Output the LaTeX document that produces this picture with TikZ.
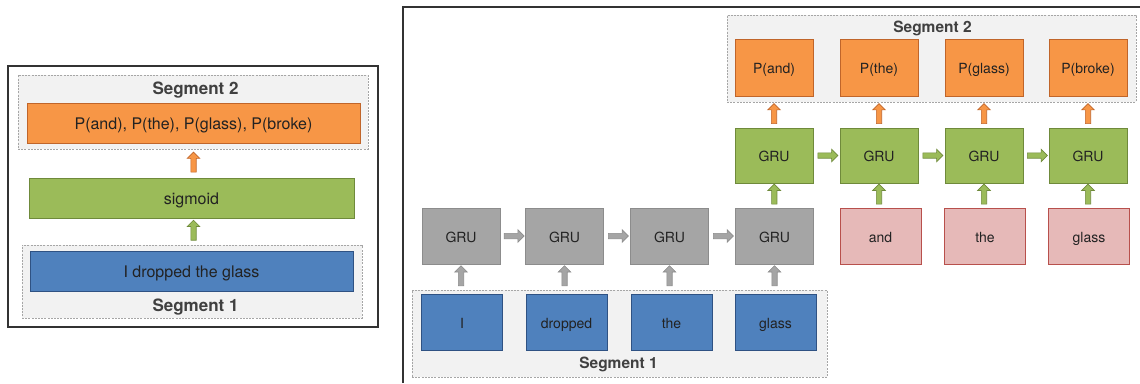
\documentclass[tikz,border=0pt]{standalone}
\usepackage{fontspec}
\setmainfont{TeX Gyre Heros}
\usetikzlibrary{shapes.arrows,calc}
\definecolor{txt}{HTML}{222222}
\definecolor{segtxt}{HTML}{404040}
\definecolor{segfill}{HTML}{F2F2F2}
\definecolor{segdraw}{HTML}{A6A6A6}
\definecolor{bluef}{HTML}{4F81BD}
\definecolor{blued}{HTML}{2F5283}
\definecolor{greenf}{HTML}{9BBB59}
\definecolor{greend}{HTML}{6F8A3B}
\definecolor{orangef}{HTML}{F79646}
\definecolor{oranged}{HTML}{C0652A}
\definecolor{grayf}{HTML}{A5A5A5}
\definecolor{grayd}{HTML}{8C8C8C}
\definecolor{pinkf}{HTML}{E6B9B8}
\definecolor{pinkd}{HTML}{B8504C}
\definecolor{framec}{HTML}{333333}
\begin{document}
\begin{tikzpicture}[x=1pt,y=-1pt,
  box/.style={rectangle, draw, inner sep=0pt, line width=0.8pt, text=txt, font=\fontsize{14}{16}\selectfont, text height=12pt, text depth=0pt},
  bigbox/.style={box, font=\fontsize{16}{18}\selectfont, text height=13pt},
  bluebox/.style={fill=bluef, draw=blued},
  greenbox/.style={fill=greenf, draw=greend},
  orangebox/.style={fill=orangef, draw=oranged},
  graybox/.style={fill=grayf, draw=grayd},
  pinkbox/.style={fill=pinkf, draw=pinkd},
  cell/.style={box, minimum width=78pt, minimum height=56pt},
  wcell/.style={box, minimum width=81pt, minimum height=56pt},
  segbox/.style={rectangle, inner sep=0pt, fill=segfill, draw=segdraw, line width=0.6pt, dash pattern=on 2pt off 1.2pt},
  seglabel/.style={font=\bfseries\fontsize{15.5}{18}\selectfont, text=segtxt, inner sep=0pt, anchor=base},
  bigseglabel/.style={seglabel, font=\bfseries\fontsize{17}{19}\selectfont},
  fat/.style={single arrow, inner sep=2.4pt, minimum height=20pt, single arrow head extend=3.6pt, line width=0.6pt},
  fatgray/.style={fat, fill=grayf, draw=grayd},
  fatgreen/.style={fat, fill=greenf, draw=greend},
  fatorange/.style={fat, fill=orangef, draw=oranged},
  up/.style={shape border rotate=90},
  frame/.style={draw=framec, line width=1.2pt}
]
\useasboundingbox (0,0) rectangle (1140,383);

% ---------------- left panel ----------------
\draw[frame] (8,66) rectangle (378,327);
\node[segbox, minimum width=350pt, minimum height=74pt] (segL2) at (193,112) {};
\node[segbox, minimum width=340pt, minimum height=73pt] (segL1) at (192,281.5) {};
\node[bigseglabel] (segL2t) at (195.5,94) {Segment 2};
\node[bigseglabel] (segL1t) at (195.5,311) {Segment 1};
\node[bigbox, orangebox, minimum width=333pt, minimum height=40pt] (probs) at (193.5,123) {P(and), P(the), P(glass), P(broke)};
\node[bigbox, greenbox, minimum width=325pt, minimum height=40pt] (sig) at (191.5,198) {sigmoid};
\node[bigbox, bluebox, minimum width=323pt, minimum height=40pt] (sent) at (191.5,271) {I dropped the glass};
\path (probs.south |- sig.north) -- (probs.south |- segL2.south) node[midway, fatorange, up] (aL1) {};
\path (probs.south |- segL1.north) -- (probs.south |- sig.south) node[midway, fatgreen, up] (aL2) {};

% ---------------- right panel ----------------
\draw[frame] (403,383) -- (403,7) -- (1140,7);
\node[segbox, minimum width=409pt, minimum height=87pt] (segR2) at (931.5,58.5) {};
\node[segbox, minimum width=415pt, minimum height=87pt] (segR1) at (619.5,333.5) {};
\node[seglabel] (segR2t) at (932.5,32) {Segment 2};
\node[seglabel] (segR1t) at (618.5,368.5) {Segment 1};

% inputs segment 1
\node[wcell, bluebox] (b1) at (462,322) {I};
\node[wcell, bluebox] (b2) at (566.5,322) {dropped};
\node[wcell, bluebox] (b3) at (671.5,322) {the};
\node[wcell, bluebox] (b4) at (775.5,322) {glass};
% encoder GRUs
\node[cell, graybox] (g1) at (461,236) {GRU};
\node[cell, graybox] (g2) at (564.5,236) {GRU};
\node[cell, graybox] (g3) at (669.5,236) {GRU};
\node[cell, graybox] (g4) at (774.5,236) {GRU};
% decoder inputs
\node[wcell, pinkbox] (p1) at (880.5,236) {and};
\node[wcell, pinkbox] (p2) at (985,236) {the};
\node[wcell, pinkbox] (p3) at (1089,236) {glass};
% decoder GRUs
\node[cell, greenbox, minimum height=55pt] (G1) at (774,155.5) {GRU};
\node[cell, greenbox, minimum height=55pt] (G2) at (879,155.5) {GRU};
\node[cell, greenbox, minimum height=55pt] (G3) at (984,155.5) {GRU};
\node[cell, greenbox, minimum height=55pt] (G4) at (1088,155.5) {GRU};
% outputs
\node[cell, orangebox, minimum height=57pt] (o1) at (774,67.5) {P(and)};
\node[cell, orangebox, minimum height=57pt] (o2) at (879,67.5) {P(the)};
\node[cell, orangebox, minimum height=57pt] (o3) at (984,67.5) {P(glass)};
\node[cell, orangebox, minimum height=57pt] (o4) at (1088,67.5) {P(broke)};

% gray arrows
\foreach \i in {1,2,3,4}{
  \path (g\i.south) -- (g\i.south |- segR1.north) node[midway, fatgray, up] {};
}
\path (g1.east) -- (g2.west) node[midway, fatgray] {};
\path (g2.east) -- (g3.west) node[midway, fatgray] {};
\path (g3.east) -- (g4.west) node[midway, fatgray] {};
% green arrows
\path (G1.south) -- (g4.north) node[midway, fatgreen, up] {};
\path (G2.south) -- (G2.south |- p1.north) node[midway, fatgreen, up] {};
\path (G3.south) -- (G3.south |- p2.north) node[midway, fatgreen, up] {};
\path (G4.south) -- (G4.south |- p3.north) node[midway, fatgreen, up] {};
\path (G1.east) -- (G2.west) node[midway, fatgreen] {};
\path (G2.east) -- (G3.west) node[midway, fatgreen] {};
\path (G3.east) -- (G4.west) node[midway, fatgreen] {};
% orange arrows
\foreach \i in {1,2,3,4}{
  \path (G\i.north) -- (G\i.north |- segR2.south) node[midway, fatorange, up] {};
}
\end{tikzpicture}
\end{document}
